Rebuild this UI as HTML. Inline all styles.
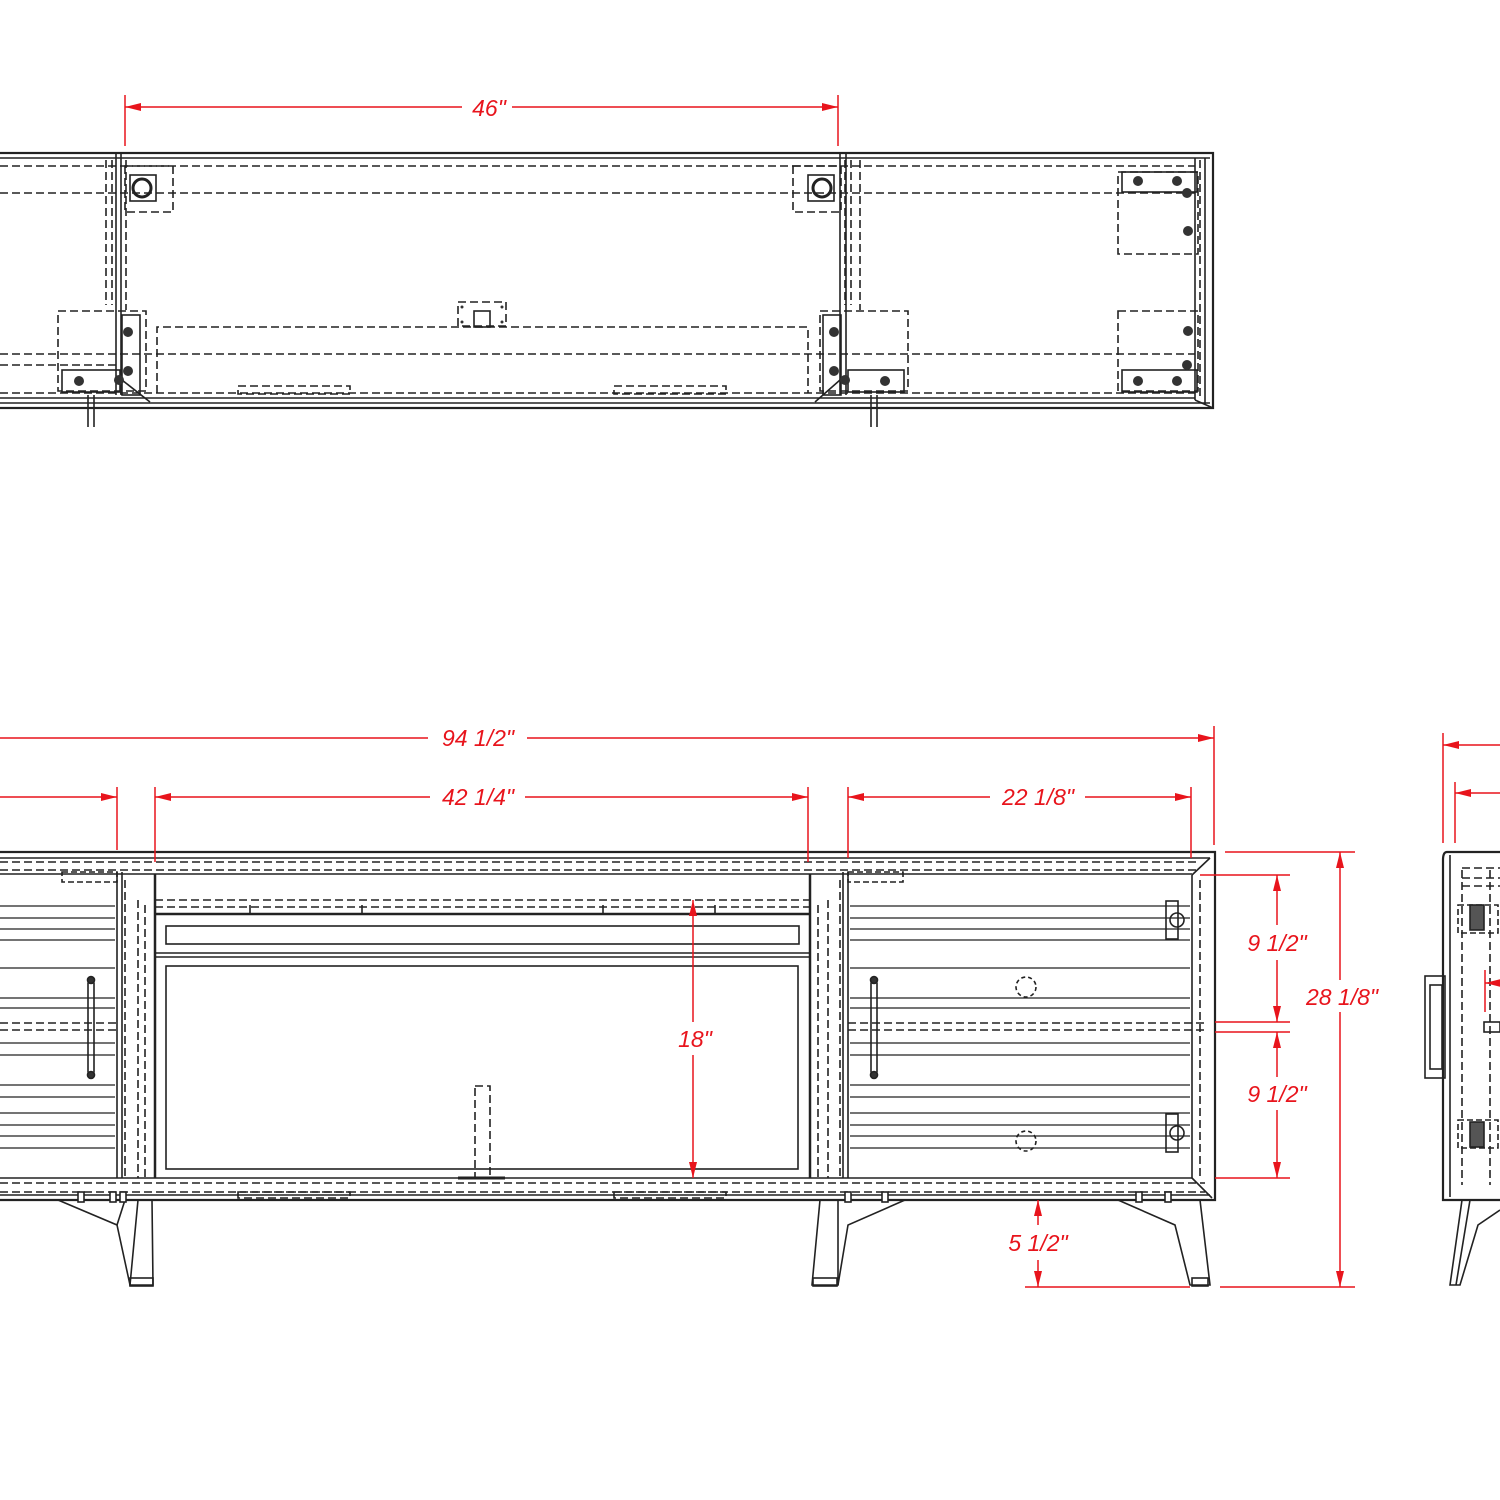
<!DOCTYPE html>
<html><head><meta charset="utf-8"><style>html,body{margin:0;padding:0;background:#fff}svg{display:block}</style></head>
<body>
<svg width="1500" height="1500" viewBox="0 0 1500 1500" xmlns="http://www.w3.org/2000/svg" font-family="Liberation Sans, sans-serif">
<defs>
<marker id="a" viewBox="0 0 16 8" refX="16" refY="4" markerWidth="16" markerHeight="8" markerUnits="userSpaceOnUse" orient="auto-start-reverse"><path d="M0,0 L16,4 L0,8 z" fill="#e8141c"/></marker>
</defs>
<rect width="1500" height="1500" fill="#fff"/>

<!-- ===== TOP VIEW ===== -->
<g stroke="#222" fill="none" stroke-width="1.6">
<rect x="-2" y="153" width="1215" height="255" stroke-width="2.2"/>
<line x1="0" y1="158" x2="1210" y2="158"/>
<line x1="0" y1="403" x2="1210" y2="403"/>
<line x1="0" y1="398" x2="1195" y2="398"/>
<line x1="1195" y1="158" x2="1195" y2="400"/>
<line x1="1205" y1="158" x2="1205" y2="405"/>
<line x1="1195" y1="400" x2="1213" y2="408"/>
<g stroke-dasharray="8,4">
<line x1="0" y1="166" x2="1195" y2="166"/>
<line x1="0" y1="193" x2="1195" y2="193"/>
<line x1="0" y1="354" x2="1195" y2="354"/>
<line x1="0" y1="365" x2="120" y2="365"/>
<line x1="0" y1="393" x2="1195" y2="393"/>
<line x1="1200" y1="160" x2="1200" y2="400"/>
<rect x="125" y="166" width="48" height="46"/>
<rect x="793" y="166" width="48" height="46"/>
<rect x="58" y="311" width="88" height="80"/>
<rect x="820" y="311" width="88" height="80"/>
<rect x="1118" y="172" width="80" height="82"/>
<rect x="1118" y="311" width="80" height="80"/>
<polyline points="157,393 157,327 808,327 808,393"/>
<rect x="238" y="386" width="112" height="8"/>
<rect x="614" y="386" width="112" height="8"/>
<rect x="458" y="302" width="48" height="24"/>
<line x1="106" y1="160" x2="106" y2="305"/>
<line x1="112" y1="160" x2="112" y2="305"/>
<line x1="126" y1="160" x2="126" y2="310"/>
<line x1="845" y1="160" x2="845" y2="305"/>
<line x1="851" y1="160" x2="851" y2="305"/>
<line x1="860" y1="160" x2="860" y2="310"/>
</g>
<line x1="116" y1="153" x2="116" y2="395"/>
<line x1="121" y1="153" x2="121" y2="395"/>
<line x1="840" y1="153" x2="840" y2="395"/>
<line x1="846" y1="153" x2="846" y2="395"/>
<rect x="122" y="315" width="18" height="80"/>
<rect x="823" y="315" width="18" height="80"/>
<rect x="62" y="370" width="58" height="22"/>
<rect x="848" y="370" width="56" height="22"/>
<rect x="1122" y="172" width="75" height="20"/>
<rect x="1122" y="370" width="75" height="22"/>
<rect x="474" y="311" width="16" height="16"/>
<rect x="130" y="175" width="26" height="26"/><circle cx="142" cy="188" r="9" stroke-width="3"/>
<rect x="808" y="175" width="26" height="26"/><circle cx="822" cy="188" r="9" stroke-width="3"/>
<line x1="88" y1="395" x2="88" y2="427"/><line x1="94" y1="395" x2="94" y2="427"/>
<line x1="871" y1="395" x2="871" y2="427"/><line x1="877" y1="395" x2="877" y2="427"/>
<line x1="122" y1="380" x2="150" y2="402"/><line x1="840" y1="380" x2="815" y2="402"/>
</g>
<g fill="#333">
<circle cx="128" cy="332" r="5"/><circle cx="128" cy="371" r="5"/><circle cx="119" cy="380" r="5"/><circle cx="79" cy="381" r="5"/>
<circle cx="834" cy="332" r="5"/><circle cx="834" cy="371" r="5"/><circle cx="845" cy="380" r="5"/><circle cx="885" cy="381" r="5"/>
<circle cx="1138" cy="181" r="5"/><circle cx="1177" cy="181" r="5"/><circle cx="1187" cy="193" r="5"/><circle cx="1188" cy="231" r="5"/>
<circle cx="1188" cy="331" r="5"/><circle cx="1138" cy="381" r="5"/><circle cx="1177" cy="381" r="5"/><circle cx="1187" cy="365" r="5"/>
<circle cx="462" cy="307" r="1.5"/><circle cx="462" cy="322" r="1.5"/><circle cx="502" cy="307" r="1.5"/><circle cx="502" cy="322" r="1.5"/>
</g>
<!-- 46 dim -->
<g stroke="#e8141c" stroke-width="1.5" fill="none">
<line x1="125" y1="95" x2="125" y2="146"/><line x1="838" y1="95" x2="838" y2="146"/>
<line x1="125" y1="107" x2="462" y2="107" marker-start="url(#a)"/>
<line x1="512" y1="107" x2="838" y2="107" marker-end="url(#a)"/>
</g>
<text x="489" y="116" font-size="23" font-style="italic" fill="#e8141c" text-anchor="middle">46"</text>

<!-- ===== FRONT VIEW ===== -->
<g stroke="#222" fill="none" stroke-width="1.6">
<path d="M-2,852 H1215 V1200 H-2" stroke-width="2.2"/>
<line x1="0" y1="858" x2="1210" y2="858"/>
<line x1="0" y1="1195" x2="1210" y2="1195"/>
<line x1="0" y1="1178" x2="1192" y2="1178"/>
<line x1="0" y1="874" x2="1192" y2="874"/>
<g stroke-dasharray="8,4">
<line x1="0" y1="862" x2="1200" y2="862"/>
<line x1="0" y1="870" x2="1200" y2="870"/>
<line x1="0" y1="1183" x2="1205" y2="1183"/>
<line x1="0" y1="1192" x2="1205" y2="1192"/>
<line x1="155" y1="900" x2="810" y2="900"/>
<line x1="155" y1="907" x2="810" y2="907"/>
<line x1="0" y1="1023" x2="118" y2="1023"/><line x1="0" y1="1030" x2="118" y2="1030"/>
<line x1="848" y1="1023" x2="1205" y2="1023"/><line x1="848" y1="1030" x2="1205" y2="1030"/>
<line x1="125" y1="880" x2="125" y2="1178"/><line x1="138" y1="900" x2="138" y2="1178"/><line x1="145" y1="905" x2="145" y2="1178"/>
<line x1="818" y1="905" x2="818" y2="1178"/><line x1="828" y1="900" x2="828" y2="1178"/><line x1="840" y1="880" x2="840" y2="1178"/>
<rect x="238" y="1192" width="112" height="6"/><rect x="614" y="1192" width="112" height="6"/>
<line x1="1200" y1="880" x2="1200" y2="1180"/>
<rect x="475" y="1086" width="15" height="92"/>
</g>
<line x1="117" y1="872" x2="117" y2="1178"/><line x1="122" y1="872" x2="122" y2="1178"/>
<line x1="155" y1="874" x2="155" y2="1178" stroke-width="2.5"/>
<line x1="810" y1="874" x2="810" y2="1178" stroke-width="2.5"/>
<line x1="843" y1="872" x2="843" y2="1178"/><line x1="848" y1="872" x2="848" y2="1178"/>
<line x1="1192" y1="875" x2="1192" y2="1178"/>
<line x1="1192" y1="875" x2="1210" y2="858"/><line x1="1192" y1="1178" x2="1212" y2="1198"/>
<line x1="155" y1="914" x2="810" y2="914" stroke-width="2.5"/>
<line x1="155" y1="953" x2="810" y2="953"/><line x1="155" y1="957" x2="810" y2="957"/>
<rect x="166" y="926" width="633" height="18"/>
<rect x="166" y="966" width="632" height="203"/>
<line x1="250" y1="905" x2="250" y2="914"/><line x1="362" y1="905" x2="362" y2="914"/>
<line x1="603" y1="905" x2="603" y2="914"/><line x1="715" y1="905" x2="715" y2="914"/>
<line x1="458" y1="1178" x2="505" y2="1178" stroke-width="3"/>
<g stroke-width="1.3">
<path d="M0,906H115M0,918H115M0,929H115M0,940H115M0,968H115M0,998H115M0,1008H115M0,1043H115M0,1055H115M0,1085H115M0,1097H115M0,1113H115M0,1125H115M0,1136H115M0,1148H115"/>
<path d="M850,906H1190M850,918H1190M850,929H1190M850,940H1190M850,968H1190M850,998H1190M850,1008H1190M850,1043H1190M850,1055H1190M850,1085H1190M850,1097H1190M850,1113H1190M850,1125H1190M850,1136H1190M850,1148H1190"/>
</g>
<rect x="88" y="980" width="6" height="95" rx="3"/>
<rect x="871" y="980" width="6" height="95" rx="3"/>
<circle cx="91" cy="980" r="3.5" fill="#333"/><circle cx="91" cy="1075" r="3.5" fill="#333"/>
<circle cx="874" cy="980" r="3.5" fill="#333"/><circle cx="874" cy="1075" r="3.5" fill="#333"/>
<rect x="1166" y="901" width="12" height="38"/><rect x="1166" y="1114" width="12" height="38"/>
<circle cx="1177" cy="920" r="7"/><circle cx="1177" cy="1133" r="7"/>
<circle cx="1026" cy="987" r="10" stroke-dasharray="4,3"/>
<circle cx="1026" cy="1141" r="10" stroke-dasharray="4,3"/>
<rect x="62" y="872" width="55" height="10" stroke-dasharray="6,3"/>
<rect x="848" y="872" width="55" height="10" stroke-dasharray="6,3"/>
<!-- legs -->
<polyline points="58,1200 117,1225 130,1285"/><polyline points="117,1225 125,1200"/>
<path d="M138,1200 L130,1285 L153,1285 L152,1200"/>
<rect x="130" y="1278" width="23" height="8"/>
<polyline points="905,1200 848,1225 838,1285"/>
<path d="M820,1200 L812,1285 L838,1285 L838,1200"/>
<rect x="813" y="1278" width="24" height="8"/>
<polyline points="1118,1200 1175,1225 1190,1285 1210,1285 1200,1200"/>
<rect x="1192" y="1278" width="16" height="8"/>
<g fill="#fff"><rect x="78" y="1192" width="6" height="10"/><rect x="110" y="1192" width="6" height="10"/><rect x="120" y="1192" width="6" height="10"/><rect x="845" y="1192" width="6" height="10"/><rect x="882" y="1192" width="6" height="10"/><rect x="1136" y="1192" width="6" height="10"/><rect x="1165" y="1192" width="6" height="10"/></g>
</g>

<!-- ===== SIDE VIEW ===== -->
<g stroke="#222" fill="none" stroke-width="1.6">
<path d="M1502,852 H1447 Q1443,852 1443,860 V1200 H1502" stroke-width="2.2"/>
<line x1="1450" y1="855" x2="1450" y2="1197"/>
<line x1="1462" y1="870" x2="1462" y2="1185" stroke-dasharray="8,4"/>
<line x1="1490" y1="870" x2="1490" y2="1185" stroke-dasharray="8,4"/>
<path d="M1462,868H1500M1462,878H1500M1462,886H1500" stroke-dasharray="8,4"/>
<rect x="1425" y="976" width="20" height="102"/>
<rect x="1430" y="985" width="12" height="84"/>
<rect x="1458" y="905" width="40" height="28" stroke-dasharray="6,3"/>
<rect x="1458" y="1120" width="40" height="28" stroke-dasharray="6,3"/>
<rect x="1470" y="905" width="14" height="25" fill="#555"/>
<rect x="1470" y="1122" width="14" height="25" fill="#555"/>
<rect x="1484" y="1022" width="16" height="10"/>
<polyline points="1462,1200 1450,1285 1460,1285 1478,1225 1500,1210"/>
<line x1="1470" y1="1200" x2="1456" y2="1285"/>
</g>
<g stroke="#e8141c" stroke-width="1.5" fill="none">
<line x1="1443" y1="733" x2="1443" y2="843"/><line x1="1455" y1="782" x2="1455" y2="843"/>
<line x1="1443" y1="745" x2="1500" y2="745" marker-start="url(#a)"/>
<line x1="1455" y1="793" x2="1500" y2="793" marker-start="url(#a)"/>
<line x1="1500" y1="983" x2="1485" y2="983" marker-end="url(#a)"/>
<line x1="1485" y1="970" x2="1485" y2="1012"/>
</g>

<!-- ===== FRONT DIMENSIONS ===== -->
<g stroke="#e8141c" stroke-width="1.5" fill="none">
<line x1="1214" y1="726" x2="1214" y2="845"/>
<line x1="0" y1="738" x2="428" y2="738"/>
<line x1="527" y1="738" x2="1214" y2="738" marker-end="url(#a)"/>
<line x1="117" y1="787" x2="117" y2="850"/>
<line x1="0" y1="797" x2="117" y2="797" marker-end="url(#a)"/>
<line x1="155" y1="787" x2="155" y2="862"/><line x1="808" y1="787" x2="808" y2="862"/>
<line x1="155" y1="797" x2="430" y2="797" marker-start="url(#a)"/>
<line x1="525" y1="797" x2="808" y2="797" marker-end="url(#a)"/>
<line x1="848" y1="787" x2="848" y2="858"/><line x1="1191" y1="787" x2="1191" y2="858"/>
<line x1="848" y1="797" x2="990" y2="797" marker-start="url(#a)"/>
<line x1="1085" y1="797" x2="1191" y2="797" marker-end="url(#a)"/>
<line x1="693" y1="900" x2="693" y2="1022" marker-start="url(#a)"/>
<line x1="693" y1="1055" x2="693" y2="1178" marker-end="url(#a)"/>
<line x1="1225" y1="852" x2="1355" y2="852"/>
<line x1="1200" y1="875" x2="1290" y2="875"/>
<line x1="1215" y1="1022" x2="1290" y2="1022"/>
<line x1="1215" y1="1032" x2="1290" y2="1032"/>
<line x1="1215" y1="1178" x2="1290" y2="1178"/>
<line x1="1025" y1="1287" x2="1190" y2="1287"/>
<line x1="1220" y1="1287" x2="1355" y2="1287"/>
<line x1="1277" y1="875" x2="1277" y2="925" marker-start="url(#a)"/>
<line x1="1277" y1="960" x2="1277" y2="1022" marker-end="url(#a)"/>
<line x1="1277" y1="1032" x2="1277" y2="1077" marker-start="url(#a)"/>
<line x1="1277" y1="1110" x2="1277" y2="1178" marker-end="url(#a)"/>
<line x1="1340" y1="852" x2="1340" y2="980" marker-start="url(#a)"/>
<line x1="1340" y1="1012" x2="1340" y2="1287" marker-end="url(#a)"/>
<line x1="1038" y1="1200" x2="1038" y2="1225" marker-start="url(#a)"/>
<line x1="1038" y1="1260" x2="1038" y2="1287" marker-end="url(#a)"/>
</g>
<g font-size="23" font-style="italic" fill="#e8141c" text-anchor="middle">
<text x="478" y="746">94 1/2"</text>
<text x="478" y="805">42 1/4"</text>
<text x="1038" y="805">22 1/8"</text>
<text x="695" y="1047">18"</text>
<text x="1277" y="951">9 1/2"</text>
<text x="1277" y="1102">9 1/2"</text>
<text x="1342" y="1005">28 1/8"</text>
<text x="1038" y="1251">5 1/2"</text>
</g>
</svg>
</body></html>
